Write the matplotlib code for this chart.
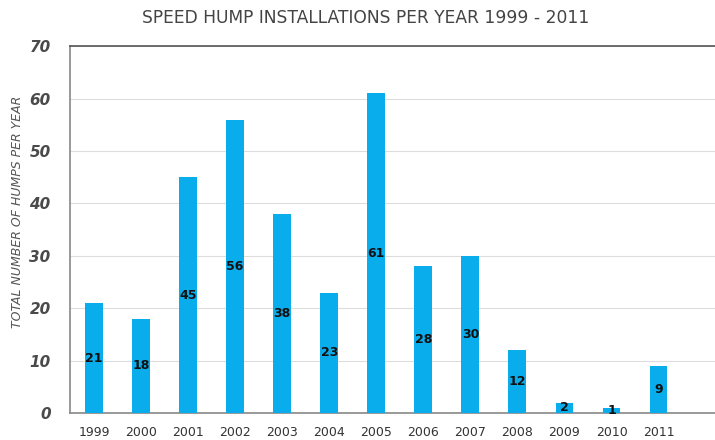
import matplotlib.pyplot as plt
import numpy as np

years = ['1999', '2000', '2001', '2002', '2003', '2004', '2005',
         '2006', '2007', '2008', '2009', '2010', '2011']
humps = [21, 18, 45, 56, 38, 23, 61, 28, 30, 12, 2, 1, 9]

fig = plt.figure(figsize=(7.15, 4.4), dpi=100)
ax = fig.add_axes([0.098, 0.061, 0.902, 0.834])

x = np.arange(len(years))
bars = ax.bar(x, humps, width=0.38, color='#0AADEB', zorder=3)

# value labels sit in the middle of each bar
for b, v in zip(bars, humps):
    ax.text(b.get_x() + b.get_width() / 2, v / 2, str(v), ha='center', va='center',
            fontsize=9, fontweight='bold', color='#111111', zorder=4)

ax.set_xlim(-0.51, 13.2)
ax.set_ylim(0, 70)
ax.set_yticks(range(0, 71, 10))
ax.set_xticks(x)
ax.set_xticklabels(years)
ax.tick_params(axis='x', length=0, pad=9, labelsize=9, labelcolor='#333333')
ax.tick_params(axis='y', length=0, pad=14, labelsize=11, labelcolor='#4a4a4a')
for lab in ax.get_yticklabels():
    lab.set_fontstyle('italic')
    lab.set_fontweight('bold')

ax.grid(axis='y', color='#dddddd', linewidth=0.8, zorder=0)
ax.spines['right'].set_visible(False)
ax.spines['top'].set_color('#555555')
ax.spines['top'].set_linewidth(1.2)
ax.spines['left'].set_color('#888888')
ax.spines['left'].set_linewidth(1.2)
ax.spines['bottom'].set_color('#888888')
ax.spines['bottom'].set_linewidth(1.2)

fig.text(0.025, 0.518, 'TOTAL NUMBER OF HUMPS PER YEAR', rotation=90,
         ha='center', va='center', fontsize=9, style='italic', color='#555555')
fig.text(0.512, 0.96, 'SPEED HUMP INSTALLATIONS PER YEAR 1999 - 2011',
         ha='center', va='center', fontsize=12.3, color='#444444')

fig.savefig('out.png', dpi=100)
